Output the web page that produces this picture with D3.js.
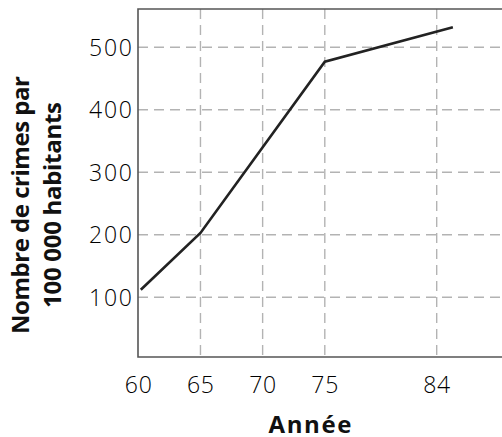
<!DOCTYPE html>
<html>
<head>
<meta charset="utf-8">
<script src="https://cdn.jsdelivr.net/npm/d3@7"></script>
<style>
  html, body { margin: 0; padding: 0; background: #fff; }
  svg { display: block; }
</style>
</head>
<body>
<div id="chart"></div>
<script>
// Line chart: crimes per 100 000 inhabitants by year
const years = [60.2, 65, 75, 85.3];
const crimes = [112, 203, 477, 532];
const xTicks = [60, 65, 70, 75, 84];
const yTicks = [100, 200, 300, 400, 500];

const width = 502, height = 437;
const plot = {left: 138, top: 9, right: 503, bottom: 357};
const font = "'Open Sans', 'Noto Sans', sans-serif";
const tickSize = 23, titleSize = 24;

const svg = d3.select("#chart").append("svg")
  .attr("width", width).attr("height", height);

const x = d3.scaleLinear().domain([60, 84]).range([138.3, 436.7]);
const y = d3.scaleLinear().domain([100, 500]).range([297.3, 47.3]);

const grid = svg.append("g")
  .attr("stroke", "#b3b3b3").attr("stroke-width", 1.4)
  .attr("stroke-dasharray", "10,6");

grid.selectAll("line.h").data(yTicks).join("line")
  .attr("class", "h")
  .attr("x1", plot.left).attr("x2", plot.right)
  .attr("y1", d => y(d)).attr("y2", d => y(d));

grid.selectAll("line.v").data(xTicks.slice(1)).join("line")
  .attr("class", "v")
  .attr("x1", d => x(d)).attr("x2", d => x(d))
  .attr("y1", plot.top).attr("y2", plot.bottom);

// frame: left, top, bottom
svg.append("path")
  .attr("d", `M${plot.right},${plot.top}H${plot.left}V${plot.bottom}H${plot.right}`)
  .attr("fill", "none").attr("stroke", "#555").attr("stroke-width", 1.6);

// tick labels (wide humanist digits in the original, stretched a little)
svg.append("g").selectAll("text").data(yTicks).join("text")
  .attr("x", 132).attr("y", d => y(d))
  .attr("dy", "0.36em")
  .attr("text-anchor", "end")
  .attr("font-family", font).attr("font-size", tickSize).attr("font-weight", 300)
  .attr("textLength", 43).attr("lengthAdjust", "spacing")
  .attr("fill", "#000")
  .text(d => d);

svg.append("g").selectAll("text").data(xTicks).join("text")
  .attr("x", d => x(d)).attr("y", 393)
  .attr("text-anchor", "middle")
  .attr("font-family", font).attr("font-size", tickSize).attr("font-weight", 300)
  .attr("textLength", 27).attr("lengthAdjust", "spacing")
  .attr("fill", "#000")
  .text(d => d);

// line
const line = d3.line().x((d, i) => x(years[i])).y(d => y(d));
svg.append("path").datum(crimes)
  .attr("d", line)
  .attr("fill", "none").attr("stroke", "#222").attr("stroke-width", 2.6);

// axis titles
svg.append("text")
  .attr("x", 310).attr("y", 433)
  .attr("text-anchor", "middle")
  .attr("font-family", font).attr("font-size", titleSize).attr("font-weight", "bold")
  .attr("textLength", 83).attr("lengthAdjust", "spacing")
  .attr("fill", "#111")
  .text("Année");

const yTitle = svg.append("g")
  .attr("transform", "translate(0,205) rotate(-90)")
  .attr("font-family", font).attr("font-size", titleSize).attr("font-weight", "bold")
  .attr("fill", "#111");
yTitle.append("text").attr("x", 0).attr("y", 29)
  .attr("text-anchor", "middle")
  .attr("textLength", 258).attr("lengthAdjust", "spacing")
  .text("Nombre de crimes par");
yTitle.append("text").attr("x", 0).attr("y", 61)
  .attr("text-anchor", "middle")
  .attr("textLength", 206).attr("lengthAdjust", "spacing")
  .text("100 000 habitants");
</script>
</body>
</html>
